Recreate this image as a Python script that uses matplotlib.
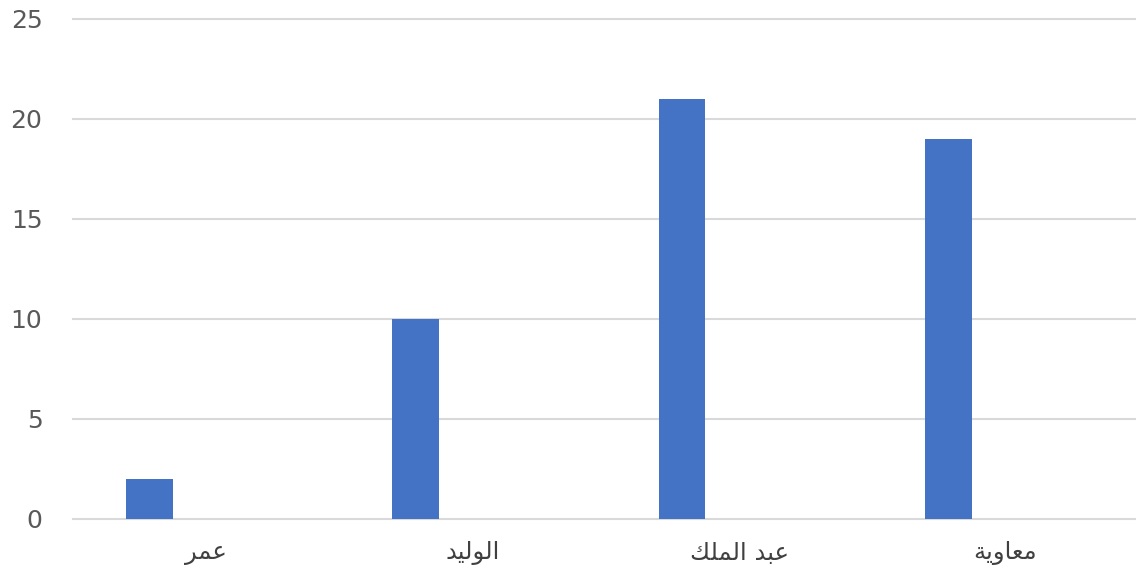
import matplotlib
matplotlib.use("Agg")
import matplotlib.pyplot as plt
import numpy as np

categories = ["عمر", "الوليد", "عبد الملك", "معاوية"]
values = [2, 10, 21, 19]
yticks = [0, 5, 10, 15, 20, 25]

# --- minimal Arabic shaping (matplotlib has no complex text layout) ---
FORMS = {
    'ا': ('\uFE8D', '\uFE8E', None, None),
    'ب': ('\uFE8F', '\uFE90', '\uFE91', '\uFE92'),
    'ة': ('\uFE93', '\uFE94', None, None),
    'د': ('\uFEA9', '\uFEAA', None, None),
    'ر': ('\uFEAD', '\uFEAE', None, None),
    'ع': ('\uFEC9', '\uFECA', '\uFECB', '\uFECC'),
    'ك': ('\uFED9', '\uFEDA', '\uFEDB', '\uFEDC'),
    'ل': ('\uFEDD', '\uFEDE', '\uFEDF', '\uFEE0'),
    'م': ('\uFEE1', '\uFEE2', '\uFEE3', '\uFEE4'),
    'و': ('\uFEED', '\uFEEE', None, None),
    'ي': ('\uFEF1', '\uFEF2', '\uFEF3', '\uFEF4'),
}

def joins_next(ch):
    return ch in FORMS and FORMS[ch][2] is not None

def shape(word):
    out = []
    n = len(word)
    for i, ch in enumerate(word):
        if ch not in FORMS:
            out.append(ch)
            continue
        prev = word[i - 1] if i > 0 else None
        nxt = word[i + 1] if i < n - 1 else None
        jp = prev is not None and joins_next(prev)
        jn = nxt is not None and nxt in FORMS and joins_next(ch)
        iso, fin, ini, med = FORMS[ch]
        if jp and jn:
            out.append(med)
        elif jp:
            out.append(fin)
        elif jn:
            out.append(ini)
        else:
            out.append(iso)
    return ''.join(reversed(out))

W, H = 1136, 576
fig = plt.figure(figsize=(W / 100, H / 100), dpi=100)
fig.patch.set_facecolor('white')

x0, x1 = 73, 1136
ybot, ytop = 519, 19
ax = fig.add_axes([x0 / W, (H - ybot) / H, (x1 - x0) / W, (ybot - ytop) / H])
ax.set_facecolor('white')

x = np.arange(len(categories))
bar_w = 0.176
offset = -0.214
ax.bar(x + offset, values, width=bar_w, color='#4472C4', zorder=3)

ax.set_xlim(-0.5, 3.49)
ax.set_ylim(0, 25)
ax.set_yticks(yticks)
ax.set_yticklabels([str(t) for t in yticks])
ax.yaxis.grid(True, color='#D9D9D9', linewidth=1.5, zorder=0)
for gl in ax.get_ygridlines():
    gl.set_clip_on(False)
ax.set_axisbelow(True)
for s in ax.spines.values():
    s.set_visible(False)

ax.set_xticks(x)
ax.set_xticklabels([shape(c) for c in categories], family=['DejaVu Sans'],
                   fontsize=17.5, color='#404040')
ax.tick_params(axis='x', length=0, pad=16)
ax.tick_params(axis='y', length=0, pad=22, labelsize=18, labelcolor='#595959')

fig.savefig('out.png', dpi=100, facecolor='white')
